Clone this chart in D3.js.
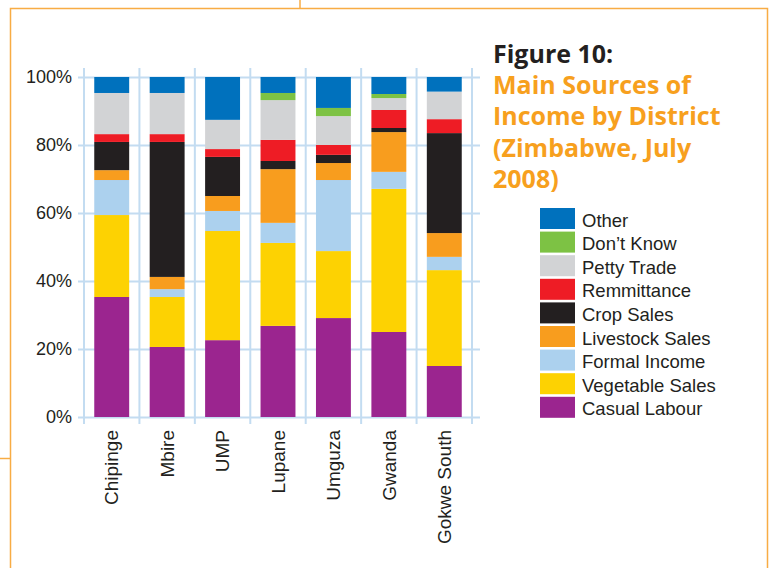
<!DOCTYPE html>
<html>
<head>
<meta charset="utf-8">
<script src="https://cdn.jsdelivr.net/npm/d3@7"></script>
<style>
  html, body { margin: 0; padding: 0; background: #ffffff; }
  svg { display: block; }
</style>
</head>
<body>
<svg id="chart" width="772" height="568"></svg>
<script>
// Districts along the x axis
const categories = ["Chipinge", "Mbire", "UMP", "Lupane", "Umguza", "Gwanda", "Gokwe South"];

// Share of households (%) by main source of income, one value per district
const casualLabour   = [35.3, 20.6, 22.6, 26.8, 29.1, 25.0, 15.0];
const vegetableSales = [24.1, 14.7, 32.1, 24.4, 19.7, 42.1, 28.2];
const formalIncome   = [10.3,  2.3,  5.9,  5.9, 20.9,  5.0,  3.9];
const livestockSales = [ 2.9,  3.6,  4.4, 15.8,  5.0, 11.7,  7.0];
const cropSales      = [ 8.3, 39.7, 11.5,  2.4,  2.4,  1.2, 29.4];
const remittance     = [ 2.3,  2.3,  2.3,  6.2,  2.9,  5.3,  4.1];
const pettyTrade     = [12.1, 12.1,  8.6, 11.7,  8.5,  3.5,  8.1];
const dontKnow       = [ 0.0,  0.0,  0.0,  2.1,  2.4,  1.2,  0.0];
const other          = [ 4.7,  4.7, 12.6,  4.7,  9.1,  5.0,  4.3];

// Series names, bottom of the stack first
const seriesNames = ["Casual Labour", "Vegetable Sales", "Formal Income", "Livestock Sales",
                     "Crop Sales", "Remmittance", "Petty Trade", "Don\u2019t Know", "Other"];
const seriesValues = [casualLabour, vegetableSales, formalIncome, livestockSales,
                      cropSales, remittance, pettyTrade, dontKnow, other];
const seriesColors = ["#9b258f", "#fdd202", "#acd1ee", "#f89d1e",
                      "#231f20", "#ee1c25", "#d2d3d5", "#7dc244", "#0071bd"];

const yTicks = [0, 20, 40, 60, 80, 100];

// Table for d3.stack: one row per district
const rows = categories.map((c, i) => {
  const r = { district: c };
  seriesNames.forEach((s, j) => { r[s] = seriesValues[j][i]; });
  return r;
});
const stacked = d3.stack().keys(seriesNames)(rows);

const svg = d3.select("#chart");
const textColor = "#231f20";
const gridColor = "#c3dcf1";
const frameColor = "#f8ac44";

// Page frame
svg.append("path")
  .attr("d", "M10.5,568 V8.5 H767.5 V568")
  .attr("fill", "none").attr("stroke", frameColor).attr("stroke-width", 1.5);
svg.append("line").attr("x1", 300).attr("x2", 300).attr("y1", 0).attr("y2", 8)
  .attr("stroke", frameColor).attr("stroke-width", 1.5);
svg.append("line").attr("x1", 0).attr("x2", 10).attr("y1", 458.5).attr("y2", 458.5)
  .attr("stroke", frameColor).attr("stroke-width", 1.5);

// Scales
const x = d3.scaleBand().domain(categories).range([84, 472])
  .paddingInner(0.37).paddingOuter(0.185);
const y = d3.scaleLinear().domain([0, 100]).range([417, 77]);

// Vertical separators between districts (first one is the value axis)
const step = x.step();
const sepX = d3.range(categories.length + 1).map(i => x.range()[0] + i * step);
svg.append("g").selectAll("line").data(sepX).join("line")
  .attr("x1", d => d).attr("x2", d => d)
  .attr("y1", 68).attr("y2", 424)
  .attr("stroke", gridColor).attr("stroke-width", 2);

// Value axis with full-width gridlines
const yAxis = d3.axisLeft(y).tickValues(yTicks).tickFormat(d => d + "%")
  .tickSizeInner(-(480 - 78)).tickSizeOuter(0).tickPadding(6);
const gy = svg.append("g").attr("transform", "translate(78,0)").call(yAxis);
gy.select(".domain").remove();
gy.selectAll(".tick line").attr("stroke", gridColor).attr("stroke-width", 2);
gy.selectAll(".tick text")
  .attr("fill", textColor)
  .style("font-family", "'Liberation Sans', Arial, sans-serif")
  .style("font-size", "18px");

// Stacked bars
svg.append("g").selectAll("g").data(stacked).join("g")
  .attr("fill", (d, i) => seriesColors[i])
  .selectAll("rect").data(d => d).join("rect")
  .attr("x", d => x(d.data.district))
  .attr("width", x.bandwidth())
  .attr("y", d => y(d[1]))
  .attr("height", d => Math.max(0, y(d[0]) - y(d[1])));

// District labels, rotated
const gx = svg.append("g").attr("transform", "translate(0,430)")
  .call(d3.axisBottom(x).tickSize(0).tickPadding(0));
gx.select(".domain").remove();
gx.selectAll(".tick text")
  .attr("transform", "rotate(-90)")
  .attr("x", 0).attr("y", 0).attr("dy", "0.35em")
  .attr("text-anchor", "end")
  .attr("fill", textColor)
  .style("font-family", "'Liberation Sans', Arial, sans-serif")
  .style("font-size", "19px");

// Title block
const titleLines = [
  { text: "Figure 10:", color: "#231f20" },
  { text: "Main Sources of", color: "#f7a01e" },
  { text: "Income by District", color: "#f7a01e" },
  { text: "(Zimbabwe, July", color: "#f7a01e" },
  { text: "2008)", color: "#f7a01e" }
];
svg.append("g").selectAll("text").data(titleLines).join("text")
  .attr("x", 493)
  .attr("y", (d, i) => 63 + i * 31.2)
  .attr("fill", d => d.color)
  .style("font-family", "'Open Sans', sans-serif")
  .style("font-weight", "bold")
  .style("font-size", "25px")
  .text(d => d.text);

// Legend, top entry is the top of the stack
const legendItems = seriesNames.map((n, i) => ({ name: n, color: seriesColors[i] })).reverse();
const lg = svg.append("g").selectAll("g").data(legendItems).join("g")
  .attr("transform", (d, i) => `translate(540,${208 + i * 23.6})`);
lg.append("rect").attr("width", 35).attr("height", 21).attr("fill", d => d.color);
lg.append("text")
  .attr("x", 42).attr("y", 18.5)
  .attr("fill", textColor)
  .style("font-family", "'Liberation Sans', Arial, sans-serif")
  .style("font-size", "18.5px")
  .text(d => d.name);
</script>
</body>
</html>
